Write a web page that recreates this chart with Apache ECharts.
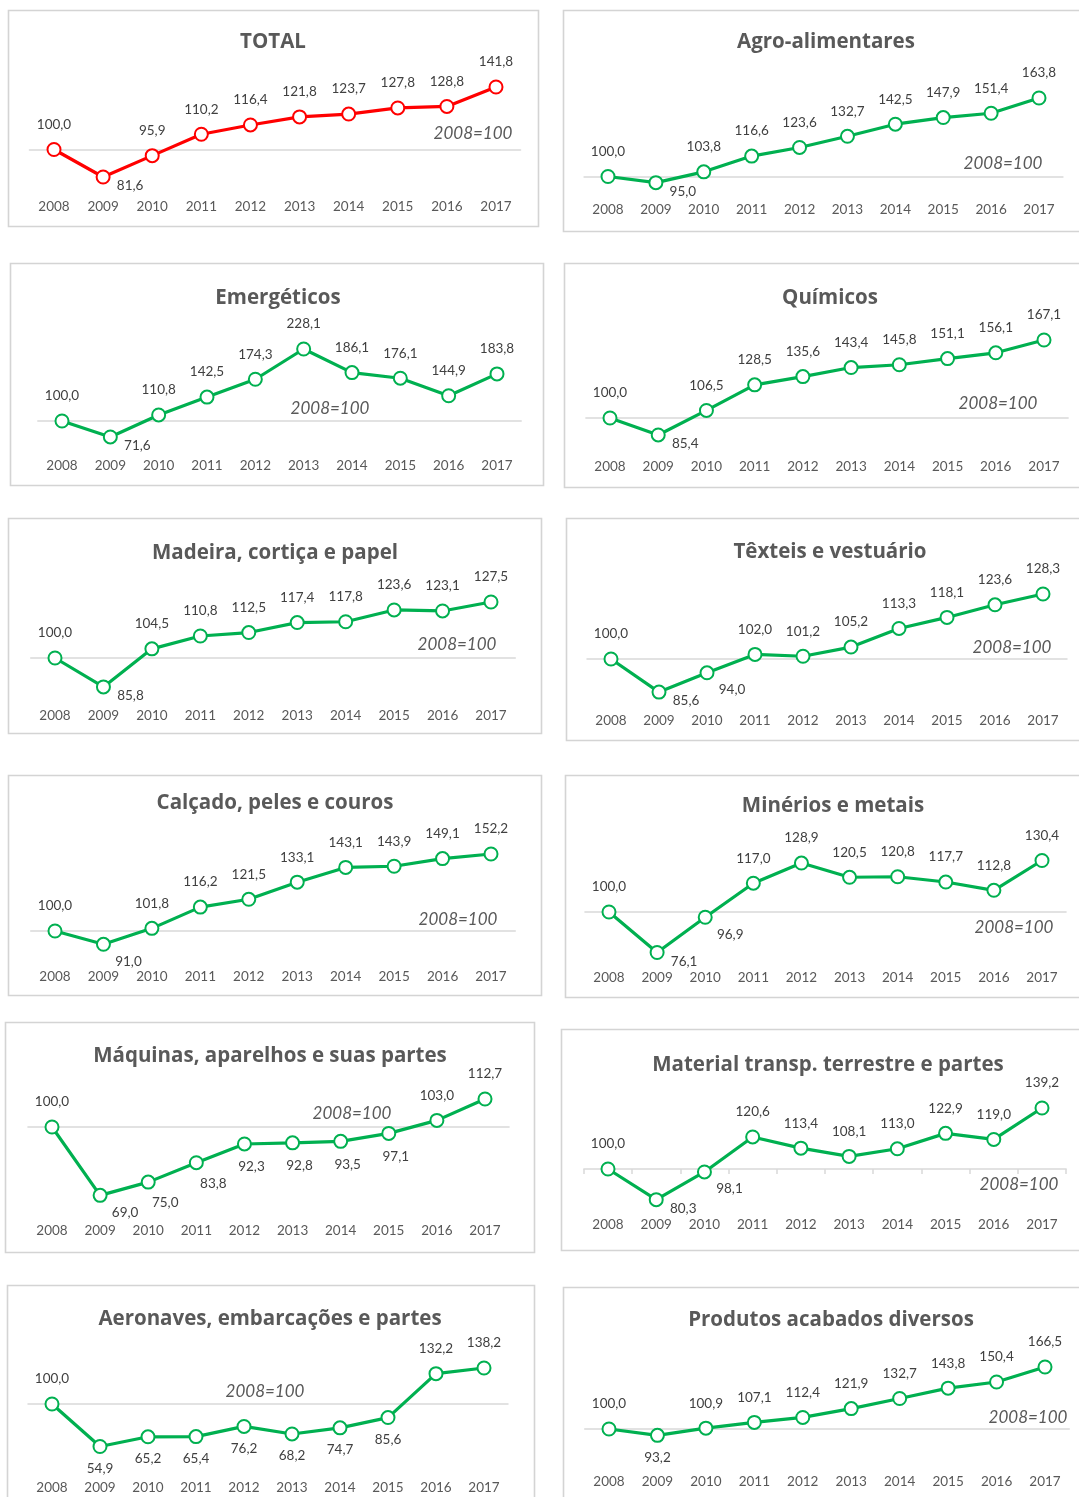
<!DOCTYPE html>
<html>
<head>
<meta charset="utf-8">
<script src="https://cdn.jsdelivr.net/npm/echarts@6/dist/echarts.min.js"></script>
<style>
  html, body { margin: 0; padding: 0; background: #ffffff; }
  #chart { width: 1079px; height: 1497px; }
</style>
</head>
<body>
<div id="chart"></div>
<script>
// Export indices by product group, 2008 = 100
const years = ['2008', '2009', '2010', '2011', '2012', '2013', '2014', '2015', '2016', '2017'];

const total       = [100.0, 81.6, 95.9, 110.2, 116.4, 121.8, 123.7, 127.8, 128.8, 141.8];
const agro        = [100.0, 95.0, 103.8, 116.6, 123.6, 132.7, 142.5, 147.9, 151.4, 163.8];
const energeticos = [100.0, 71.6, 110.8, 142.5, 174.3, 228.1, 186.1, 176.1, 144.9, 183.8];
const quimicos    = [100.0, 85.4, 106.5, 128.5, 135.6, 143.4, 145.8, 151.1, 156.1, 167.1];
const madeira     = [100.0, 85.8, 104.5, 110.8, 112.5, 117.4, 117.8, 123.6, 123.1, 127.5];
const texteis     = [100.0, 85.6, 94.0, 102.0, 101.2, 105.2, 113.3, 118.1, 123.6, 128.3];
const calcado     = [100.0, 91.0, 101.8, 116.2, 121.5, 133.1, 143.1, 143.9, 149.1, 152.2];
const minerios    = [100.0, 76.1, 96.9, 117.0, 128.9, 120.5, 120.8, 117.7, 112.8, 130.4];
const maquinas    = [100.0, 69.0, 75.0, 83.8, 92.3, 92.8, 93.5, 97.1, 103.0, 112.7];
const transporte  = [100.0, 80.3, 98.1, 120.6, 113.4, 108.1, 113.0, 122.9, 119.0, 139.2];
const aeronaves   = [100.0, 54.9, 65.2, 65.4, 76.2, 68.2, 74.7, 85.6, 132.2, 138.2];
const produtos    = [100.0, 93.2, 100.9, 107.1, 112.4, 121.9, 132.7, 143.8, 150.4, 166.5];

const baseNote = '2008=100';

// Panel layout: frame, title centre, first/last category centre, pixel row of 100
// and of the series peak, row of the year labels, note centre and label placement codes
const panels = [
  { title: 'TOTAL', data: total, color: '#FF0000',
    box: [8, 10, 530, 216], tx: 273, ty: 41, x0: 54, x1: 496, y100: 149.5, yPeak: 87, axisY: 207, note: [473, 134], lab: 'TRTTTTTTTT' },
  { title: 'Agro-alimentares', data: agro, color: '#00B050',
    box: [563, 10, 530, 221], tx: 826, ty: 41, x0: 608, x1: 1039, y100: 176.5, yPeak: 98, axisY: 210, note: [1003, 164], lab: 'TRTTTTTTTT' },
  { title: 'Emergéticos', data: energeticos, color: '#00B050',
    box: [10, 263, 533, 222], tx: 278, ty: 297, x0: 62, x1: 497, y100: 421, yPeak: 349, axisY: 466, note: [330, 409], lab: 'TRTTTTTTTT' },
  { title: 'Químicos', data: quimicos, color: '#00B050',
    box: [564, 263, 530, 224], tx: 830, ty: 297, x0: 610, x1: 1044, y100: 418, yPeak: 340, axisY: 467, note: [998, 404], lab: 'TRTTTTTTTT' },
  { title: 'Madeira, cortiça e papel', data: madeira, color: '#00B050',
    box: [8, 518, 533, 215], tx: 275, ty: 552, x0: 55, x1: 491, y100: 658, yPeak: 602, axisY: 716, note: [457, 645], lab: 'TRTTTTTTTT' },
  { title: 'Têxteis e vestuário', data: texteis, color: '#00B050',
    box: [566, 518, 530, 222], tx: 830, ty: 551, x0: 611, x1: 1043, y100: 659, yPeak: 594, axisY: 721, note: [1012, 648], lab: 'TRDTTTTTTT' },
  { title: 'Calçado, peles e couros', data: calcado, color: '#00B050',
    box: [8, 775, 533, 220], tx: 275, ty: 802, x0: 55, x1: 491, y100: 931, yPeak: 854, axisY: 977, note: [458, 920], lab: 'TDTTTTTTTT' },
  { title: 'Minérios e metais', data: minerios, color: '#00B050',
    box: [565, 775, 530, 222], tx: 833, ty: 805, x0: 609, x1: 1042, y100: 912, yPeak: 860.5, axisY: 978, note: [1014, 928], lab: 'TRDTTTTTTT' },
  { title: 'Máquinas, aparelhos e suas partes', data: maquinas, color: '#00B050',
    box: [5, 1022, 529, 230], tx: 270, ty: 1055, x0: 52, x1: 485, y100: 1127, yPeak: 1099, axisY: 1231, note: [352, 1114], lab: 'TDSSbbbbTT' },
  { title: 'Material transp. terrestre e partes', data: transporte, color: '#00B050', ticks: true,
    box: [561, 1029, 530, 221], tx: 828, ty: 1064, x0: 608, x1: 1042, y100: 1169, yPeak: 1108, axisY: 1225, note: [1019, 1185], lab: 'TRDTTTTTTT' },
  { title: 'Aeronaves, embarcações e partes', data: aeronaves, color: '#00B050',
    box: [7, 1285, 527, 240], tx: 270, ty: 1318, x0: 52, x1: 484, y100: 1404, yPeak: 1368, axisY: 1488, note: [265, 1392], lab: 'TBBBBBBBTT' },
  { title: 'Produtos acabados diversos', data: produtos, color: '#00B050',
    box: [563, 1287, 530, 240], tx: 831, ty: 1319, x0: 609, x1: 1045, y100: 1429, yPeak: 1367, axisY: 1482, note: [1028, 1418], lab: 'TBTTTTTTTT' }
];

// Label offsets (from the marker centre) for each placement code
const LABEL_OFFSET = {
  T: [0, -25],  // above
  B: [0, 22],   // below
  R: [27, 9],   // right, slightly below
  D: [25, 17],  // down-right
  S: [17, 21],  // below, nudged right
  b: [7, 23]    // below, slight right
};

const FONT = 'Lato, "Open Sans", "Noto Sans", sans-serif';
const TITLE_FONT = '"Open Sans", Lato, "Noto Sans", sans-serif';
const GREY = '#595959';
const fmt = v => v.toFixed(1).replace('.', ',');

const grids = [], xAxes = [], yAxes = [], series = [], graphics = [];

panels.forEach((p, i) => {
  const band = (p.x1 - p.x0) / 9;
  const left = p.x0 - band / 2;
  const width = band * 10;
  const peak = Math.max.apply(null, p.data);
  const scale = (p.y100 - p.yPeak) / (peak - 100);
  const top = p.yPeak - 30;
  const bottom = p.axisY - 15;
  const yMin = 100 - (bottom - p.y100) / scale;
  const yMax = 100 + (p.y100 - top) / scale;

  grids.push({ left: left, top: top, width: width, height: bottom - top, outerBoundsMode: 'none' });

  // year labels along the bottom
  xAxes.push({
    gridIndex: i, type: 'category', data: years, boundaryGap: true, position: 'bottom',
    axisLine: { show: false }, axisTick: { show: false }, splitLine: { show: false },
    axisLabel: { color: GREY, fontSize: 13.5, fontFamily: FONT, margin: 8 }
  });
  // reference line at 100, raised into the plot area
  xAxes.push({
    gridIndex: i, type: 'category', data: years, boundaryGap: true, position: 'bottom',
    offset: -(bottom - p.y100),
    axisLine: { show: true, lineStyle: { color: '#D9D9D9', width: 1.5 } },
    axisTick: { show: !!p.ticks, length: 5, inside: false, lineStyle: { color: '#D9D9D9', width: 1.5 } },
    axisLabel: { show: false }, splitLine: { show: false }
  });
  yAxes.push({ gridIndex: i, type: 'value', min: yMin, max: yMax, show: false, splitLine: { show: false } });

  series.push({
    type: 'line', name: p.title,
    xAxisIndex: 2 * i + 1, yAxisIndex: i,
    data: p.data.map((v, k) => ({ value: v, label: { offset: LABEL_OFFSET[p.lab[k]] } })),
    symbol: 'circle', symbolSize: 13,
    itemStyle: { color: '#FFFFFF', borderColor: p.color, borderWidth: 2 },
    lineStyle: { color: p.color, width: 3.2 },
    z: 5,
    label: {
      show: true, position: 'inside', color: '#404040', fontSize: 13.5, fontFamily: FONT,
      formatter: params => fmt(params.value)
    },
    emphasis: { disabled: true },
    animation: false
  });

  graphics.push({
    type: 'rect', silent: true, z: 0,
    shape: { x: p.box[0] + 0.5, y: p.box[1] + 0.5, width: p.box[2], height: p.box[3] },
    style: { fill: 'none', stroke: '#D4D4D4', lineWidth: 1.6 }
  });
  graphics.push({
    type: 'text', silent: true, x: p.tx, y: p.ty + 1,
    style: {
      text: p.title, fill: GREY, fontSize: 20.5, fontWeight: 'bold', fontFamily: TITLE_FONT,
      align: 'center', verticalAlign: 'middle', textAlign: 'center', textVerticalAlign: 'middle'
    }
  });
  graphics.push({
    type: 'text', silent: true, x: p.note[0], y: p.note[1],
    style: {
      text: baseNote, fill: GREY, fontSize: 17, fontStyle: 'italic', fontFamily: FONT,
      align: 'center', verticalAlign: 'middle', textAlign: 'center', textVerticalAlign: 'middle'
    }
  });
});

const chart = echarts.init(document.getElementById('chart'), null, { renderer: 'canvas' });
chart.setOption({
  backgroundColor: '#FFFFFF',
  animation: false,
  grid: grids,
  xAxis: xAxes,
  yAxis: yAxes,
  series: series,
  graphic: graphics
});
</script>
</body>
</html>
